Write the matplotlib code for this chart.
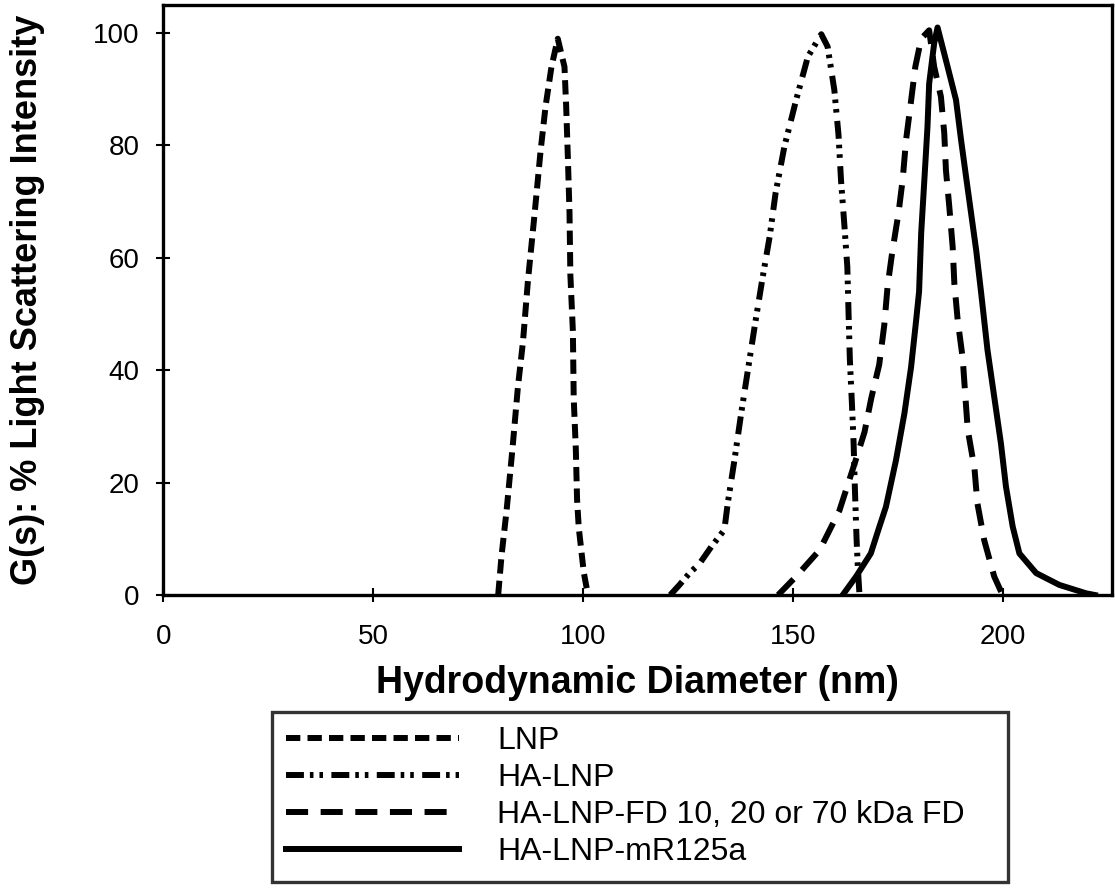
import matplotlib
matplotlib.use("Agg")
import matplotlib.pyplot as plt

# ---- data ----
lnp_x = [79.8, 80.6, 81.8, 83.2, 84.5, 85.7, 86.9, 88.5, 89.9, 91.1, 92.5, 94.0,
         95.6, 96.0, 96.4, 96.8, 97.0, 97.6, 97.8, 98.3, 98.6, 99.0, 99.6, 100.2, 101.2]
lnp_y = [0, 7, 15, 26, 37, 45, 56, 68, 79, 87, 94, 99,
         94, 87, 78, 68, 57, 47, 35, 26, 17, 12, 8, 4, 0]

ha_x = [120.8, 123.0, 125.4, 127.8, 130.6, 133.7, 134.5, 136.1, 137.7, 139.3, 140.9,
        142.7, 144.5, 145.9, 148.0, 150.8, 153.6, 156.8, 158.3, 159.9, 160.9, 161.5,
        162.3, 163.0, 163.3, 163.6, 164.1, 164.5, 164.8, 165.2, 165.5, 165.9]
ha_y = [0, 1.8, 3.9, 5.6, 8.6, 11.6, 16.3, 24.0, 32.3, 40.0, 47.7,
        56.0, 63.8, 71.5, 79.8, 88.1, 95.8, 99.8, 97.6, 89.9, 81.9, 73.8,
        65.8, 58.4, 50, 42, 34, 27, 19, 10, 5, 0]

fd_x = [146.5, 150.8, 156.4, 161.1, 165.0, 167.1, 168.7, 170.6, 171.8, 172.6, 173.7,
        175.2, 176.2, 177.0, 178.2, 179.2, 180.6, 182.5, 183.7, 185.3, 186.1, 186.5,
        187.3, 188.1, 188.5, 189.3, 190.5, 191.1, 191.7, 193.3, 194.0, 195.6, 198.0, 200.0]
fd_y = [0, 3.3, 8, 15, 24, 29, 35, 41, 48, 55, 61,
        68, 74, 81, 88, 94, 99, 100.5, 94, 88.7, 82.2, 75.6,
        69.1, 62, 55.5, 48.9, 42.1, 35.6, 29.4, 22.5, 16.3, 9.8, 3.3, 0]

mr_x = [161.9, 165.1, 168.6, 170.4, 172.2, 174.6, 176.6, 178.2, 179.4, 180.1, 180.6,
        181.4, 182.1, 182.5, 183.7, 184.5, 186.9, 188.9, 190.1, 191.3, 192.5, 193.7,
        194.9, 196.4, 198.0, 199.6, 200.8, 202.4, 204.0, 208.0, 213.5, 219.9, 222.0]
mr_y = [0, 3.3, 7.4, 11.6, 15.7, 24.0, 32.3, 40.6, 48.9, 54, 64.4,
        74.4, 83.3, 91.0, 98.2, 101, 94, 88.1, 81, 74.4, 67.9, 61.4,
        53.7, 43.6, 35.3, 27, 19.3, 12.2, 7.4, 3.9, 1.8, 0.3, 0]

labels = ["LNP", "HA-LNP", "HA-LNP-FD 10, 20 or 70 kDa FD", "HA-LNP-mR125a"]
x_ticks = [0, 50, 100, 150, 200]
y_ticks = [0, 20, 40, 60, 80, 100]

plt.rcParams['font.family'] = ['Liberation Sans', 'DejaVu Sans']

fig = plt.figure(figsize=(11.15, 8.88), dpi=100)
ax = fig.add_axes([163.3 / 1115, 1 - 595 / 888, (1111.7 - 163.3) / 1115, (595 - 5) / 888])

lw = 4.3
l1, = ax.plot(lnp_x, lnp_y, color='black', lw=lw, dashes=(2.4, 1.2), label=labels[0])
l2, = ax.plot(ha_x, ha_y, color='black', lw=lw, dashes=(3.0, 1.0, 0.6, 1.0, 0.6, 1.4), label=labels[1])
l3, = ax.plot(fd_x, fd_y, color='black', lw=lw, dashes=(3.7, 2.1), label=labels[2])
l4, = ax.plot(mr_x, mr_y, color='black', lw=lw, label=labels[3])

ax.set_xlim(0, 226)
ax.set_ylim(0, 105)
ax.set_xticks(x_ticks)
ax.set_yticks(y_ticks)
ax.tick_params(direction='inout', length=10, width=1.5, labelsize=20, pad=12)
ax.tick_params(axis='x', pad=16)
for s in ax.spines.values():
    s.set_linewidth(2.4)

ax.set_xlabel("Hydrodynamic Diameter (nm)", fontsize=27, fontweight='bold', labelpad=11)
ax.set_ylabel("G(s): % Light Scattering Intensity", fontsize=26, fontweight='bold')
ax.yaxis.set_label_coords(-0.125, 0.5)

leg = fig.legend(handles=[l1, l2, l3, l4], labels=labels,
                 loc='upper left',
                 bbox_to_anchor=(272 / 1115, 1 - 878 / 888, 736 / 1115, 166 / 888),
                 mode='expand', borderaxespad=0.0,
                 fontsize=23, handlelength=5.4, handletextpad=1.2,
                 labelspacing=0.22, borderpad=0.45, frameon=True, fancybox=False,
                 edgecolor='black')
leg.get_frame().set_linewidth(2.4)

fig.savefig("out.png", dpi=100)
